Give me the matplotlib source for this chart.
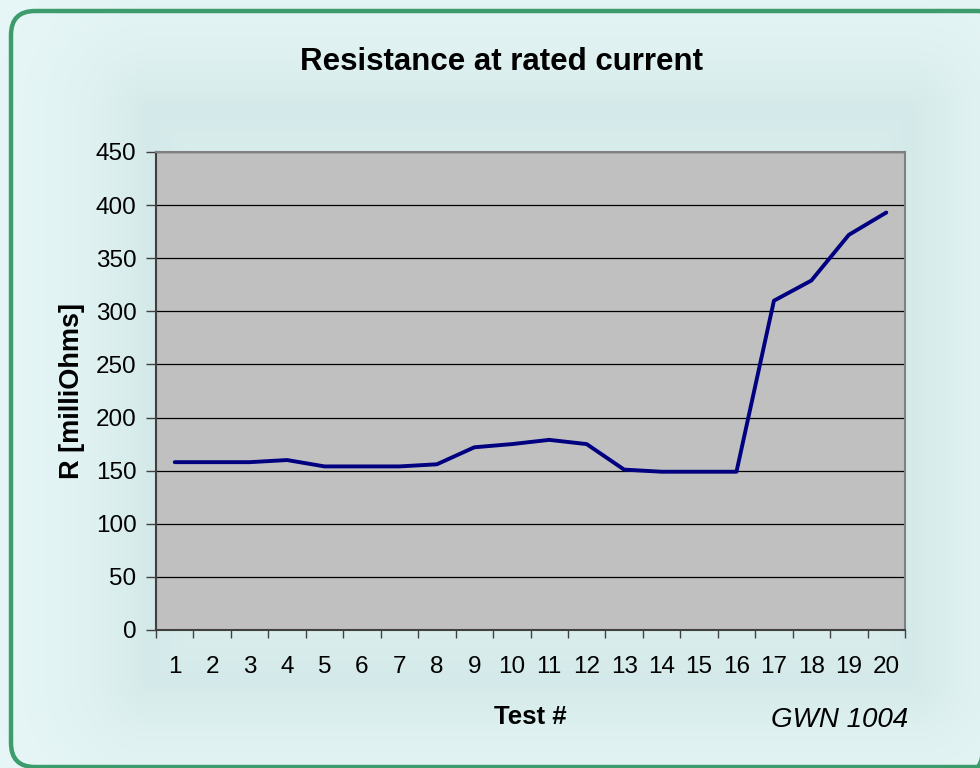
import numpy as np
import matplotlib
matplotlib.use("Agg")
import matplotlib.pyplot as plt
from matplotlib.patches import FancyBboxPatch

tests = list(range(1, 21))
resistance = [158, 158, 158, 160, 154, 154, 154, 156, 172, 175,
              179, 175, 151, 149, 149, 149, 310, 329, 372, 393]
y_ticks = [0, 50, 100, 150, 200, 250, 300, 350, 400, 450]

plt.rcParams['font.family'] = ['Liberation Sans', 'DejaVu Sans']

W, H = 980, 768
fig = plt.figure(figsize=(W / 100, H / 100), dpi=100)

# background layer
bg = fig.add_axes([0, 0, 1, 1])
bg.set_xlim(0, W)
bg.set_ylim(H, 0)
bg.axis('off')
yy, xx = np.mgrid[0:H, 0:W]
x0, x1, y0, y1 = 150, 910, 110, 680
dx = np.maximum(np.maximum(x0 - xx, xx - x1), 0)
dy = np.maximum(np.maximum(y0 - yy, yy - y1), 0)
d = np.sqrt(dx ** 2 + dy ** 2)
inside = (dx == 0) & (dy == 0)
din = np.minimum.reduce([xx - x0, x1 - xx, yy - y0, y1 - yy]).astype(float)
s = np.where(inside, np.exp(-din / 120.0) * 0.85 + 0.15, np.exp(-d / 80.0))
light = np.array([233, 248, 248]) / 255.0
dark = np.array([212, 233, 233]) / 255.0
img = light[None, None, :] * (1 - s[..., None]) + dark[None, None, :] * s[..., None]
bg.imshow(img, extent=[0, W, H, 0], zorder=0, interpolation='bilinear')
box = FancyBboxPatch((11, 11), 990, 756, boxstyle="round,pad=0,rounding_size=24",
                     fill=False, edgecolor='#3c9c6c', linewidth=3.2, zorder=2)
bg.add_patch(box)
bg.set_zorder(0)

# main axes
left, right, top, bottom = 156, 905, 152, 630
ax = fig.add_axes([left / W, 1 - bottom / H, (right - left) / W, (bottom - top) / H])
ax.set_facecolor('#c0c0c0')
ax.plot(tests, resistance, color='#000080', linewidth=2.8, solid_capstyle='round',
        solid_joinstyle='round', zorder=3)
ax.set_xlim(0.5, 20.5)
ax.set_ylim(0, 450)
ax.set_yticks(y_ticks)
ax.set_yticklabels([str(v) for v in y_ticks], fontsize=17.5)
ax.yaxis.grid(True, color='black', linewidth=0.9)
ax.set_axisbelow(True)
ax.set_xticks(np.arange(0.5, 21, 1))
ax.set_xticklabels([])
ax.set_xticks(tests, minor=True)
ax.set_xticklabels([str(t) for t in tests], minor=True, fontsize=17.5)
ax.tick_params(axis='x', which='major', direction='out', length=6, width=1, color='#404040')
ax.tick_params(axis='x', which='minor', length=0, pad=19)
ax.tick_params(axis='y', direction='out', length=7, width=1, color='#404040', pad=7)
for sp in ax.spines.values():
    sp.set_color('#808080')
    sp.set_linewidth(1.5)
ax.spines['left'].set_color('#404040')
ax.spines['bottom'].set_color('#404040')

ax.set_xlabel('Test #', fontsize=18.5, fontweight='bold', labelpad=19)
ax.set_ylabel('R [milliOhms]', fontsize=19.5, fontweight='bold', labelpad=8)

fig.text(501 / W, 1 - 62 / H, 'Resistance at rated current', fontsize=22.5,
         fontweight='bold', ha='center', va='center')
fig.text(908 / W, 1 - 720 / H, 'GWN 1004', fontsize=20, fontstyle='italic',
         ha='right', va='center')

fig.savefig('out.png', dpi=100)
